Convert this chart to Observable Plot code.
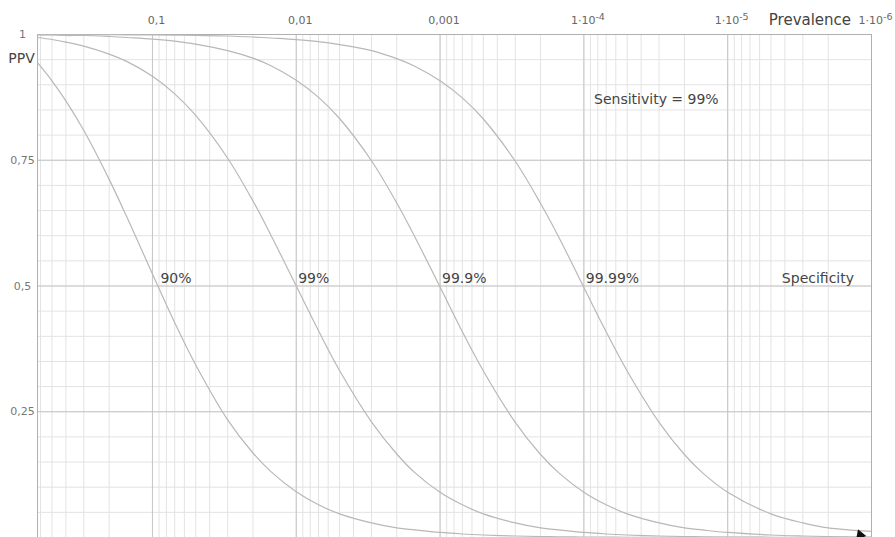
<!DOCTYPE html>
<html><head><meta charset="utf-8">
<script src="https://cdn.jsdelivr.net/npm/d3@7"></script>
<script src="https://cdn.jsdelivr.net/npm/@observablehq/plot@0.6"></script>
<style>html,body{margin:0;padding:0;background:#fff} svg{display:block}</style>
</head><body><div id="chart"></div>
<script>
// Prevalence sample points
const prevalence = [0.63, 0.5, 0.4, 0.3, 0.2, 0.15, 0.1, 0.07, 0.05, 0.03, 0.02, 0.015, 0.01, 0.007, 0.005, 0.003, 0.002, 0.0015, 0.001, 7e-4, 5e-4, 3e-4, 2e-4, 1.5e-4, 1e-4, 7e-5, 5e-5, 3e-5, 2e-5, 1.5e-5, 1e-5, 5e-6, 3e-6, 2e-6, 1e-6];
// PPV for each specificity (sensitivity = 99%)
const ppv90    = [0.944, 0.908, 0.868, 0.809, 0.712, 0.636, 0.524, 0.427, 0.343, 0.234, 0.168, 0.131, 0.091, 0.065, 0.047, 0.029, 0.019, 0.015, 0.010, 0.007, 0.005, 0.003, 0.002, 0.0015, 0.001, 0.0007, 0.0005, 0.0003, 0.0002, 0.00015, 0.0001, 0.00005, 0.00003, 0.00002, 0.00001];
const ppv99    = [0.994, 0.990, 0.985, 0.977, 0.961, 0.946, 0.917, 0.882, 0.839, 0.754, 0.669, 0.601, 0.500, 0.411, 0.332, 0.230, 0.166, 0.129, 0.090, 0.065, 0.047, 0.029, 0.019, 0.015, 0.010, 0.007, 0.005, 0.003, 0.002, 0.0015, 0.001, 0.0005, 0.0003, 0.0002, 0.0001];
const ppv999   = [0.9994, 0.999, 0.998, 0.998, 0.996, 0.994, 0.991, 0.987, 0.981, 0.968, 0.953, 0.938, 0.909, 0.875, 0.833, 0.749, 0.665, 0.598, 0.498, 0.409, 0.331, 0.229, 0.165, 0.129, 0.090, 0.065, 0.047, 0.029, 0.019, 0.015, 0.010, 0.005, 0.003, 0.002, 0.001];
const ppv9999  = [0.99994, 0.9999, 0.9999, 0.9998, 0.9996, 0.9994, 0.9991, 0.9987, 0.998, 0.997, 0.995, 0.993, 0.990, 0.986, 0.980, 0.968, 0.952, 0.937, 0.908, 0.874, 0.832, 0.748, 0.664, 0.598, 0.497, 0.409, 0.331, 0.229, 0.165, 0.129, 0.090, 0.047, 0.029, 0.019, 0.012];

const curveLabels = ["90%", "99%", "99.9%", "99.99%"];
const curveLabelX = [0.088, 0.0097, 0.00097, 0.000097];

const xTickValues = [0.1, 0.01, 0.001, 1e-4, 1e-5, 1e-6];
const xTickLabels = ["0,1", "0,01", "0,001", "1·10^-4", "1·10^-5", "1·10^-6"];
const yTickValues = [1, 0.75, 0.5, 0.25];
const yTickLabels = ["1", "0,75", "0,5", "0,25"];

const series = [ppv90, ppv99, ppv999, ppv9999];
const rows = series.flatMap((vals, k) => prevalence.map((p, i) => ({spec: curveLabels[k], p, ppv: vals[i]})));

const xMin = 1e-6, xMax = 0.63;
const minorX = [];
for (let e = -6; e <= 0; e++) for (let m = 1; m <= 9; m++) {
  const v = m * Math.pow(10, e);
  if (v >= xMin * 0.999 && v <= xMax) minorX.push(v);
}
const majorX = [0.1, 0.01, 0.001, 1e-4, 1e-5];
const minorY = d3.range(1, 20).map(i => i * 0.05);

const FONT = "DejaVu Sans";
const chart = Plot.plot({
  width: 895, height: 537,
  marginLeft: 37, marginRight: 24, marginTop: 34, marginBottom: 0,
  x: {type: "log", domain: [xMax, xMin], axis: null},
  y: {domain: [0, 1], axis: null},
  style: {fontFamily: FONT, background: "#fff"},
  marks: [
    Plot.ruleX(minorX, {stroke: "#e3e3e3", strokeWidth: 1}),
    Plot.ruleY(minorY, {stroke: "#e3e3e3", strokeWidth: 1}),
    Plot.ruleX(majorX, {stroke: "#c6c6c6", strokeWidth: 1}),
    Plot.ruleY([0.25, 0.5, 0.75], {stroke: "#c6c6c6", strokeWidth: 1}),
    Plot.ruleX([xMax, xMin], {stroke: "#b0b0b0", strokeWidth: 1}),
    Plot.ruleY([1], {stroke: "#b0b0b0", strokeWidth: 1}),
    Plot.line(rows, {x: "p", y: "ppv", z: "spec", stroke: "#b8b8b8", strokeWidth: 1.2, curve: "catmull-rom"}),
    Plot.dot([{p: 1.2e-6, v: 0.005}], {x: "p", y: "v", symbol: "triangle", rotate: 100, r: 4, fill: "#111", stroke: "none"}),
    Plot.text(yTickValues, {y: d => d, text: (d, i) => yTickLabels[i], frameAnchor: "left", dx: -15, textAnchor: "middle", lineAnchor: "middle", fill: "#777", fontSize: 11}),
    Plot.text(xTickValues, {x: d => d, text: (d, i) => xTickLabels[i], frameAnchor: "top", dy: -14, dx: 4, textAnchor: "middle", lineAnchor: "middle", fill: "#666", fontSize: 11, className: "xtick"}),
    Plot.text(["Prevalence"], {x: 2.68e-6, frameAnchor: "top", dy: -14, textAnchor: "middle", lineAnchor: "middle", fill: "#444", fontSize: 15}),
    Plot.text(["PPV"], {frameAnchor: "top-left", dx: -16, dy: 24, textAnchor: "middle", lineAnchor: "middle", fill: "#444", fontSize: 14}),
    Plot.text(curveLabels, {x: (d, i) => curveLabelX[i], y: 0.5, dy: -7.5, textAnchor: "start", lineAnchor: "middle", fill: "#444", fontSize: 14}),
    Plot.text(["Specificity"], {x: 4.2e-6, y: 0.5, dy: -7.5, textAnchor: "start", lineAnchor: "middle", fill: "#444", fontSize: 14}),
    Plot.text(["Sensitivity = 99%"], {x: 8.5e-5, y: 0.871, textAnchor: "start", lineAnchor: "middle", fill: "#444", fontSize: 14})
  ]
});
// Render "^exp" as a raised, smaller superscript
chart.querySelectorAll("text").forEach(t => {
  const s = t.textContent;
  if (!s.includes("^")) return;
  const [base, exp] = s.split("^");
  while (t.firstChild) t.removeChild(t.firstChild);
  t.appendChild(document.createTextNode(base));
  const ts = document.createElementNS("http://www.w3.org/2000/svg", "tspan");
  ts.setAttribute("dy", "-0.45em");
  ts.setAttribute("font-size", "9.5");
  ts.textContent = exp;
  t.appendChild(ts);
});
document.getElementById("chart").appendChild(chart);
</script>
</body></html>
